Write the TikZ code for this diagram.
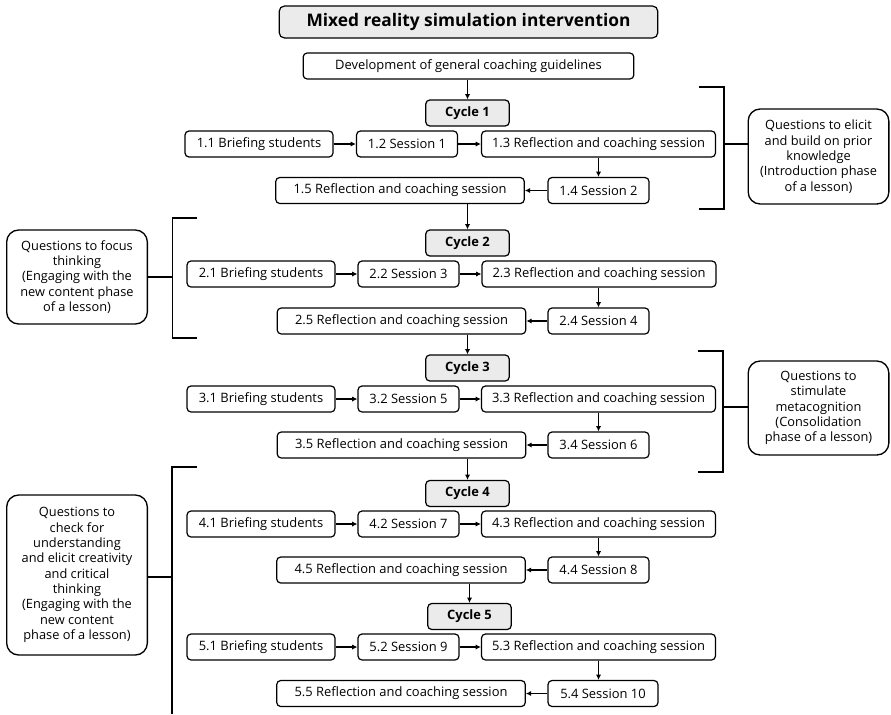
\documentclass[tikz,border=0pt]{standalone}
\usepackage{fontspec}
\setmainfont{Open Sans}
\usepackage{tikz}
\usetikzlibrary{arrows.meta, calc}
\definecolor{boxgray}{HTML}{EBEBEB}
\tikzstyle{arrow} = [line width=1.1pt, -{Latex[length=4pt,width=4pt]}]

\begin{document}
\begin{tikzpicture}[x=0.75pt, y=-0.75pt,
        % Define the styles for the boxes
        stepbox/.style={draw, line width=0.9pt, rounded corners=3pt, minimum height=19.5pt, inner sep=0pt, font=\fontsize{9.7}{11.5}\selectfont},
        briefbox/.style={stepbox, minimum width=111pt},
        sessbox/.style={stepbox, minimum width=75.75pt},
        reflbox/.style={stepbox, minimum width=175.5pt},
        backbox/.style={stepbox, minimum width=186.4pt},
        cyclebox/.style={stepbox, fill=boxgray, minimum width=62.6pt, font=\fontsize{9.7}{11.5}\selectfont\bfseries},
        phasebox/.style={draw, line width=1pt, rounded corners=9pt, minimum width=105.5pt, inner sep=0pt, align=center, font=\fontsize{9.6}{11.5}\selectfont},
        bracket/.style={line width=1.1pt}
    ]
        \useasboundingbox (0,0) rectangle (891,714);

        % --- Title and guidelines ---
        \node (title) [stepbox, fill=boxgray, rounded corners=4pt, minimum width=284pt, minimum height=24pt, font=\fontsize{13}{15}\selectfont\bfseries] at (468.5, 22) {Mixed reality simulation intervention};
        \node (guide) [stepbox, minimum width=248pt] at (468.5, 66) {Development of general coaching guidelines};

        % --- Cycle 1 ---
        \node (c1)  [cyclebox] at (467.5, 113) {Cycle 1};
        \node (r11) [briefbox] at (259, 144) {1.1 Briefing students};
        \node (r12) [sessbox]  at (407, 144) {1.2 Session 1};
        \node (r13) [reflbox]  at (598.5, 144) {1.3 Reflection and coaching session};
        \node (r14) [sessbox]  at (598.5, 190.5) {1.4 Session 2};
        \node (r15) [backbox]  at (400, 190.5) {1.5 Reflection and coaching session};

        % --- Cycle 2 ---
        \node (c2)  [cyclebox] at (467.5, 243) {Cycle 2};
        \node (r21) [briefbox] at (261, 274) {2.1 Briefing students};
        \node (r22) [sessbox]  at (408.5, 274) {2.2 Session 3};
        \node (r23) [reflbox]  at (599, 274) {2.3 Reflection and coaching session};
        \node (r24) [sessbox]  at (598.5, 321) {2.4 Session 4};
        \node (r25) [backbox]  at (401.5, 321) {2.5 Reflection and coaching session};

        % --- Cycle 3 ---
        \node (c3)  [cyclebox] at (467.5, 368) {Cycle 3};
        \node (r31) [briefbox] at (261, 399) {3.1 Briefing students};
        \node (r32) [sessbox]  at (408.5, 399) {3.2 Session 5};
        \node (r33) [reflbox]  at (598.5, 399) {3.3 Reflection and coaching session};
        \node (r34) [sessbox]  at (598.5, 445) {3.4 Session 6};
        \node (r35) [backbox]  at (401.5, 445) {3.5 Reflection and coaching session};

        % --- Cycle 4 ---
        \node (c4)  [cyclebox] at (467.5, 493.5) {Cycle 4};
        \node (r41) [briefbox] at (261, 524) {4.1 Briefing students};
        \node (r42) [sessbox]  at (408.5, 524) {4.2 Session 7};
        \node (r43) [reflbox]  at (598.5, 524) {4.3 Reflection and coaching session};
        \node (r44) [sessbox]  at (598.5, 570) {4.4 Session 8};
        \node (r45) [backbox]  at (401, 570) {4.5 Reflection and coaching session};

        % --- Cycle 5 ---
        \node (c5)  [cyclebox] at (469.5, 616.5) {Cycle 5};
        \node (r51) [briefbox] at (261, 647) {5.1 Briefing students};
        \node (r52) [sessbox]  at (408.5, 647) {5.2 Session 9};
        \node (r53) [reflbox]  at (598.5, 647) {5.3 Reflection and coaching session};
        \node (r54) [sessbox, minimum width=82.5pt] at (603, 693.5) {5.4 Session 10};
        \node (r55) [backbox]  at (401, 693.5) {5.5 Reflection and coaching session};

        % --- Flow arrows ---
        \draw[arrow] (guide.south -| c1.north) -- (c1.north);
        \draw[arrow] (r11) -- (r12);
        \draw[arrow] (r12) -- (r13);
        \draw[arrow] (r13.south -| r14.north) -- (r14.north);
        \draw[arrow] (r14) -- (r15);
        \draw[arrow] (r15.south -| c2.north) -- (c2.north);

        \draw[arrow] (r21) -- (r22);
        \draw[arrow] (r22) -- (r23);
        \draw[arrow] (r23.south -| r24.north) -- (r24.north);
        \draw[arrow] (r24) -- (r25);
        \draw[arrow] (r25.south -| c3.north) -- (c3.north);

        \draw[arrow] (r31) -- (r32);
        \draw[arrow] (r32) -- (r33);
        \draw[arrow] (r33.south -| r34.north) -- (r34.north);
        \draw[arrow] (r34) -- (r35);
        \draw[arrow] (r35.south -| c4.north) -- (c4.north);

        \draw[arrow] (r41) -- (r42);
        \draw[arrow] (r42) -- (r43);
        \draw[arrow] (r43.south -| r44.north) -- (r44.north);
        \draw[arrow] (r44) -- (r45);
        \draw[arrow] (r45.south -| c5.north) -- (c5.north);

        \draw[arrow] (r51) -- (r52);
        \draw[arrow] (r52) -- (r53);
        \draw[arrow] (r53.south) -- (r53.south |- r54.north);
        \draw[arrow] (r54) -- (r55);

        % --- Lesson phase boxes ---
        \node (q1) [phasebox, minimum height=71.25pt] at (818.5, 156.5) {Questions to elicit\\and build on prior\\knowledge\\(Introduction phase\\of a lesson)};
        \node (q2) [phasebox, minimum height=70.5pt] at (77, 277) {Questions to focus\\thinking\\(Engaging with the\\new content phase\\of a lesson)};
        \node (q3) [phasebox, minimum height=70.5pt] at (818.5, 408) {Questions to\\stimulate\\metacognition\\(Consolidation\\phase of a lesson)};
        \node (q4) [phasebox, minimum height=120pt] at (77, 575) {Questions to\\check for\\understanding\\and elicit creativity\\and critical\\thinking\\(Engaging with the\\new content\\phase of a lesson)};

        % --- Brackets round the cycles ---
        \coordinate (b1) at (724, 144);
        \draw[bracket] (699, 87) -- (724, 87) -- (724, 209) -- (699, 209);
        \draw[bracket] (b1) -- (q1.west |- b1);

        \coordinate (b2) at (172.5, 277);
        \draw[bracket] (197, 218) -- (172.5, 218) -- (172.5, 338) -- (197, 338);
        \draw[bracket] (b2) -- (q2.east |- b2);

        \coordinate (b3) at (723, 407);
        \draw[bracket] (698, 351) -- (723, 351) -- (723, 472) -- (698, 472);
        \draw[bracket] (b3) -- (q3.west |- b3);

        \coordinate (b4) at (172, 577);
        \draw[bracket] (197, 467) -- (172, 467) -- (172, 714);
        \draw[bracket] (b4) -- (q4.east |- b4);

    \end{tikzpicture}
\end{document}
